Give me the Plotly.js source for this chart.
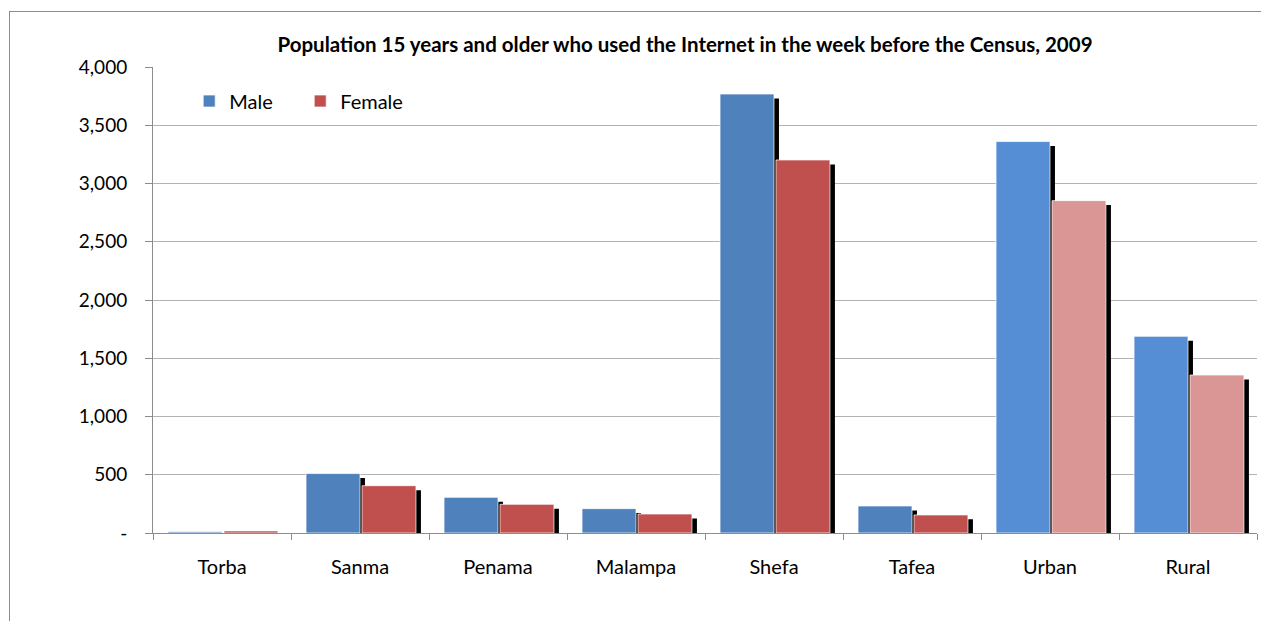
<!DOCTYPE html>
<html>
<head>
<meta charset="utf-8">
<script src="https://cdn.plot.ly/plotly-3.0.1.min.js"></script>
<style>
  html, body { margin: 0; padding: 0; background: #ffffff; }
  #frame { position: absolute; left: 9px; top: 11px; width: 1300px; height: 700px;
           border: 1px solid #8c8c8c; box-sizing: border-box; pointer-events: none; }
  #chart { position: absolute; left: 0; top: 0; width: 1261px; height: 621px; }
</style>
</head>
<body>
<div id="frame"></div>
<div id="chart"></div>
<script>
// ---- data ----
const categories = ["Torba", "Sanma", "Penama", "Malampa", "Shefa", "Tafea", "Urban", "Rural"];
const maleValues = [10, 510, 306, 209, 3768, 232, 3360, 1688];
const femaleValues = [18, 406, 246, 163, 3202, 155, 2853, 1356];
const yTickValues = [0, 500, 1000, 1500, 2000, 2500, 3000, 3500, 4000];
const yTickLabels = ["-", "500", "1,000", "1,500", "2,000", "2,500", "3,000", "3,500", "4,000"];
const titleText = "Population 15 years and older who used the Internet in the week before the Census, 2009";

// ---- styles ----
const maleColors = ["#4F81BD", "#4F81BD", "#4F81BD", "#4F81BD", "#4F81BD", "#4F81BD", "#558ED5", "#558ED5"];
const femaleColors = ["#C0504D", "#C0504D", "#C0504D", "#C0504D", "#C0504D", "#C0504D", "#D99694", "#D99694"];
const barW = 0.391;
const gap = 0.0145;
const shadowDx = 0.036;   // shadow horizontal shift (category units)
const shadowDy = 38;      // shadow vertical drop (value units)
const FONT = "Lato, 'Open Sans', sans-serif";

const shadow = v => v.map(d => Math.max(d - shadowDy, 0));

const traces = [
  { type: "bar", x: categories, y: shadow(maleValues), width: barW, offset: -barW + shadowDx,
    marker: { color: "#000000" }, showlegend: false, hoverinfo: "skip" },
  { type: "bar", name: "Male", x: categories, y: maleValues, width: barW, offset: -barW,
    marker: { color: maleColors, line: { color: "rgba(255,255,255,0.7)", width: 1 } } },
  { type: "bar", x: categories, y: shadow(femaleValues), width: barW, offset: gap + shadowDx,
    marker: { color: "#000000" }, showlegend: false, hoverinfo: "skip" },
  { type: "bar", name: "Female", x: categories, y: femaleValues, width: barW, offset: gap,
    marker: { color: femaleColors, line: { color: "rgba(255,255,255,0.7)", width: 1 } } }
];

const layout = {
  width: 1261, height: 621,
  margin: { l: 153, r: 4, t: 67, b: 88 },
  paper_bgcolor: "rgba(0,0,0,0)",
  plot_bgcolor: "rgba(0,0,0,0)",
  barmode: "overlay",
  font: { family: FONT, color: "#000000", size: 19 },
  title: { text: "<b>" + titleText + "</b>", font: { family: FONT, size: 20.5, color: "#000000" },
           x: 685 / 1261, xref: "container", xanchor: "center",
           y: 1 - 45 / 621, yref: "container", yanchor: "middle" },
  xaxis: {
    type: "category", categoryorder: "array", categoryarray: categories,
    tickson: "boundaries", ticks: "outside", ticklen: 6, tickcolor: "#8c8c8c",
    showline: true, linecolor: "#8c8c8c", linewidth: 1,
    showgrid: false, zeroline: false,
    tickfont: { family: FONT, size: 20, color: "#000000" },
    ticklabelstandoff: 16
  },
  yaxis: {
    range: [0, 4000], tickvals: yTickValues, ticktext: yTickLabels,
    ticks: "outside", ticklen: 7, tickcolor: "#8c8c8c",
    showline: true, linecolor: "#8c8c8c", linewidth: 1,
    showgrid: true, gridcolor: "#b3b3b3", gridwidth: 1,
    zeroline: false,
    tickfont: { family: FONT, size: 19, color: "#000000" },
    ticklabelstandoff: 14
  },
  legend: {
    orientation: "h", x: 0.0328, xanchor: "left", y: 0.927, yanchor: "middle",
    font: { family: FONT, size: 20, color: "#000000" },
    bgcolor: "rgba(0,0,0,0)", entrywidth: 66, traceorder: "normal"
  },
  showlegend: true
};

Plotly.newPlot("chart", traces, layout, { displayModeBar: false, staticPlot: true });
</script>
</body>
</html>
